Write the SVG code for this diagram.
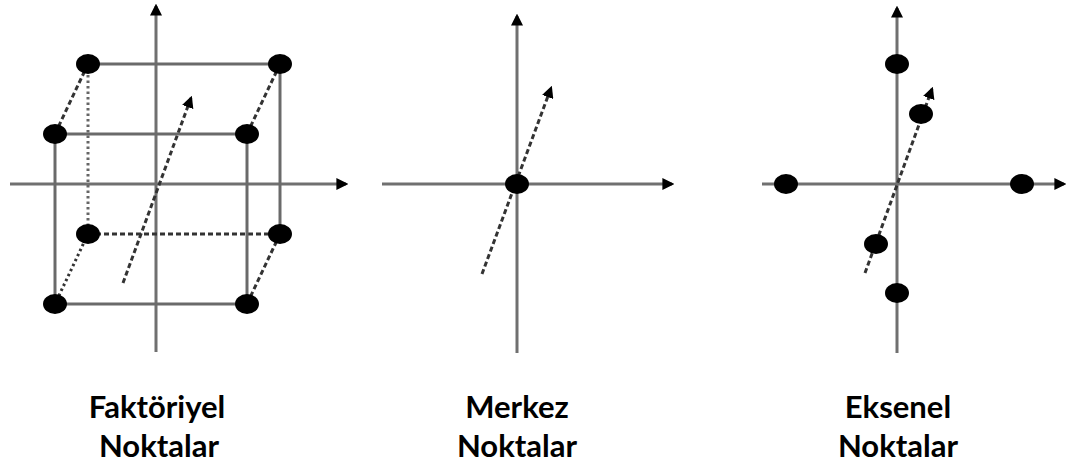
<svg xmlns="http://www.w3.org/2000/svg" width="1068" height="468" viewBox="0 0 1068 468">
<style>
.ax{stroke:#707070;stroke-width:3;fill:none}
.ed{stroke:#6a6a6a;stroke-width:3;fill:none}
.da{stroke:#333;stroke-width:3;stroke-dasharray:5 3;fill:none}
.dt{stroke:#666;stroke-width:3;stroke-dasharray:2.5 3;fill:none}
.pt{fill:#000}
.lb{font-family:Lato,"Open Sans","Liberation Sans",sans-serif;font-weight:bold;font-size:31px;fill:#000;text-anchor:middle}
</style>
<defs>
<marker id="ar" viewBox="0 0 10 10" refX="8" refY="5" markerWidth="4" markerHeight="4" orient="auto" markerUnits="strokeWidth">
<path d="M0,0 L10,5 L0,10 Z" fill="#000"/>
</marker>
</defs>
<g id="connectors">
<line class="ax" x1="10" y1="184" x2="346" y2="184" marker-end="url(#ar)"/>
<line class="ax" x1="156" y1="352" x2="156" y2="6" marker-end="url(#ar)"/>
<line class="da" x1="123" y1="283" x2="191" y2="98" marker-end="url(#ar)"/>
<line class="ed" x1="88" y1="64" x2="280" y2="64"/>
<line class="ed" x1="55" y1="134" x2="247" y2="134"/>
<line class="ed" x1="55" y1="304" x2="247" y2="304"/>
<line class="da" x1="88" y1="234" x2="280" y2="234"/>
<line class="ed" x1="55" y1="134" x2="55" y2="304"/>
<line class="ed" x1="247" y1="134" x2="247" y2="304"/>
<line class="ed" x1="280" y1="64" x2="280" y2="234"/>
<line class="dt" x1="88" y1="64" x2="88" y2="234"/>
<line class="da" x1="88" y1="64" x2="55" y2="134"/>
<line class="da" x1="280" y1="64" x2="247" y2="134"/>
<line class="dt" x1="88" y1="234" x2="55" y2="304" style="stroke:#333"/>
<line class="da" x1="280" y1="234" x2="247" y2="304"/>
<line class="ax" x1="382" y1="184" x2="672" y2="184" marker-end="url(#ar)"/>
<line class="ax" x1="517" y1="353" x2="517" y2="16" marker-end="url(#ar)"/>
<line class="da" x1="482" y1="274" x2="551" y2="88" marker-end="url(#ar)"/>
<line class="ax" x1="762" y1="184" x2="1064" y2="184" marker-end="url(#ar)"/>
<line class="ax" x1="897" y1="353" x2="897" y2="8" marker-end="url(#ar)"/>
<line class="da" x1="865" y1="273" x2="932" y2="89" marker-end="url(#ar)"/>
</g>
<g id="factorial-points">
<ellipse class="pt" cx="88" cy="64" rx="12" ry="10"/>
<ellipse class="pt" cx="280" cy="64" rx="12" ry="10"/>
<ellipse class="pt" cx="55" cy="134" rx="12" ry="10"/>
<ellipse class="pt" cx="247" cy="134" rx="12" ry="10"/>
<ellipse class="pt" cx="88" cy="234" rx="12" ry="10"/>
<ellipse class="pt" cx="280" cy="234" rx="12" ry="10"/>
<ellipse class="pt" cx="55" cy="304" rx="12" ry="10"/>
<ellipse class="pt" cx="247" cy="304" rx="12" ry="10"/>
</g>
<g id="center-point">
<ellipse class="pt" cx="517" cy="184" rx="12" ry="10"/>
</g>
<g id="axial-points">
<ellipse class="pt" cx="897" cy="64" rx="12" ry="10"/>
<ellipse class="pt" cx="897" cy="293" rx="12" ry="10"/>
<ellipse class="pt" cx="786" cy="184" rx="12" ry="10"/>
<ellipse class="pt" cx="1022" cy="184" rx="12" ry="10"/>
<ellipse class="pt" cx="921" cy="114" rx="12" ry="10"/>
<ellipse class="pt" cx="876" cy="244" rx="12" ry="10"/>
</g>
<g id="labels">
<text class="lb" x="157" y="418">Faktöriyel</text>
<text class="lb" x="159" y="457">Noktalar</text>
<text class="lb" x="517" y="418">Merkez</text>
<text class="lb" x="517" y="457">Noktalar</text>
<text class="lb" x="898" y="418">Eksenel</text>
<text class="lb" x="898" y="457">Noktalar</text>
</g>
</svg>
